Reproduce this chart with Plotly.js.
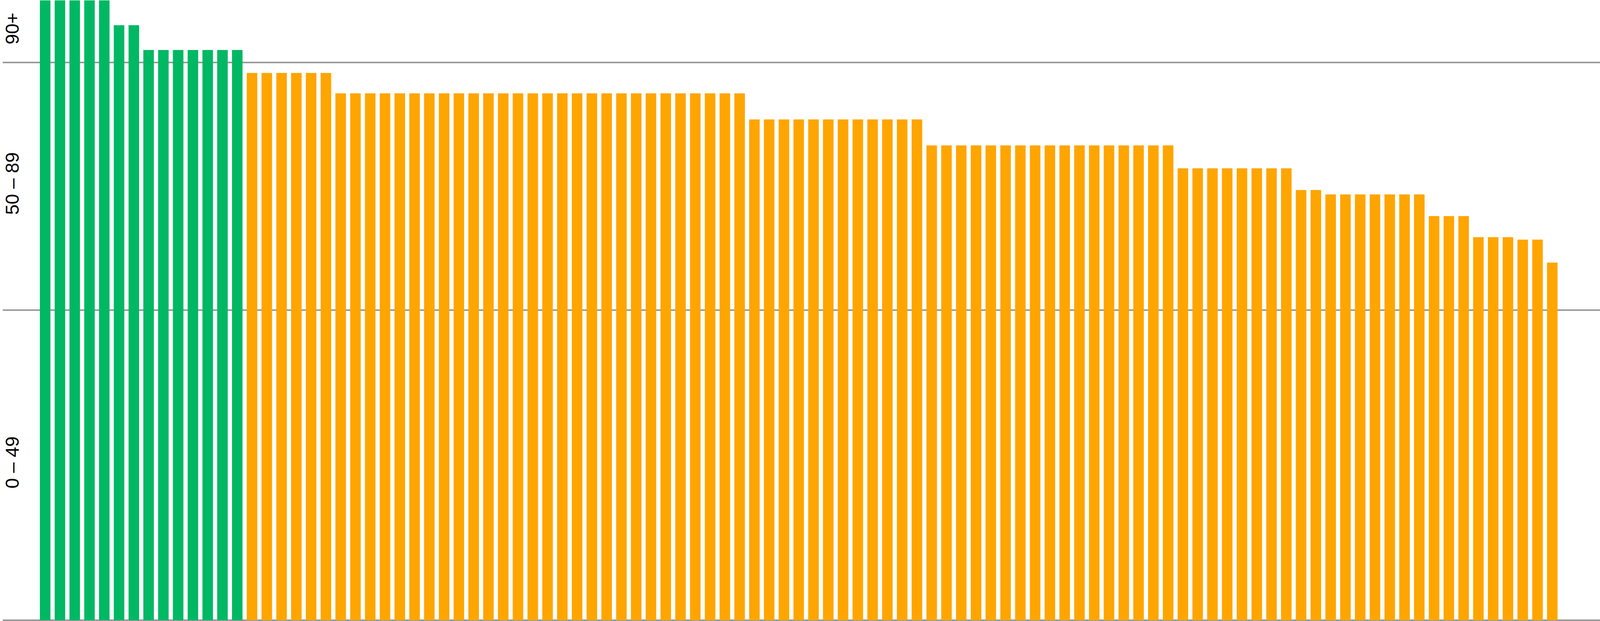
<!DOCTYPE html>
<html>
<head>
<meta charset="utf-8">
<script src="https://cdn.plot.ly/plotly-3.0.1.min.js"></script>
<style>
  html, body { margin: 0; padding: 0; background: #ffffff; overflow: hidden; }
  #chart { width: 100vw; height: 100vh; }
</style>
</head>
<body>
<div id="chart"></div>
<script>
// Scores, in display order (sorted descending)
const scores = [
  100, 100, 100, 100, 100,
  96, 96,
  92, 92, 92, 92, 92, 92, 92,
  88.3, 88.3, 88.3, 88.3, 88.3, 88.3,
  85, 85, 85, 85, 85, 85, 85, 85, 85, 85, 85, 85, 85, 85,
  85, 85, 85, 85, 85, 85, 85, 85, 85, 85, 85, 85, 85, 85,
  80.8, 80.8, 80.8, 80.8, 80.8, 80.8, 80.8, 80.8, 80.8, 80.8, 80.8, 80.8,
  76.6, 76.6, 76.6, 76.6, 76.6, 76.6, 76.6, 76.6, 76.6, 76.6, 76.6, 76.6, 76.6, 76.6, 76.6, 76.6, 76.6,
  72.9, 72.9, 72.9, 72.9, 72.9, 72.9, 72.9, 72.9,
  69.4, 69.4,
  68.7, 68.7, 68.7, 68.7, 68.7, 68.7, 68.7,
  65.2, 65.2, 65.2,
  61.8, 61.8, 61.8,
  61.4, 61.4,
  57.7
];
const items = scores.map((_, i) => i);

// Band tick labels and band boundaries
const bandLabelPos = [25, 70, 95];
const bandLabels = ['0 – 49', '50 – 89', '90+'];
const bandEdges = [0, 50, 90, 100];

const greenColor = '#00B863';
const orangeColor = '#FFA500';
const barColors = scores.map(v => v >= 90 ? greenColor : orangeColor);

// The page fills whatever window it is opened in
const W = window.innerWidth || 4600;
const H = window.innerHeight || 1590;

const trace = {
  type: 'bar',
  x: items,
  y: scores,
  marker: { color: barColors, line: { width: 0 } },
  hoverinfo: 'y'
};

const layout = {
  width: W,
  height: H,
  margin: { l: Math.round(8 * W / 4600), r: 0, t: 0, b: 0, pad: 0 },
  paper_bgcolor: '#ffffff',
  plot_bgcolor: '#ffffff',
  showlegend: false,
  bargap: 0.287,
  font: { family: 'Liberation Sans, Arial, sans-serif', size: 48, color: '#000000' },
  xaxis: {
    range: [-2.872, 105.23],
    showgrid: false,
    zeroline: false,
    showline: false,
    showticklabels: false,
    ticks: ''
  },
  yaxis: {
    range: [-0.126, 100.06],
    tickmode: 'array',
    tickvals: bandLabelPos,
    ticktext: bandLabels,
    tickangle: -90,
    ticklabelposition: 'inside',
    ticklabelstandoff: -20,
    ticks: '',
    showgrid: false,
    zeroline: false,
    showline: false,
    tickfont: { family: 'Liberation Sans, Arial, sans-serif', size: 48, color: '#000000' },
    minor: {
      tickmode: 'array',
      tickvals: bandEdges,
      showgrid: true,
      gridcolor: '#9a9a9a',
      gridwidth: 4,
      ticks: ''
    }
  }
};

Plotly.newPlot('chart', [trace], layout, { staticPlot: true, displayModeBar: false });
</script>
</body>
</html>
